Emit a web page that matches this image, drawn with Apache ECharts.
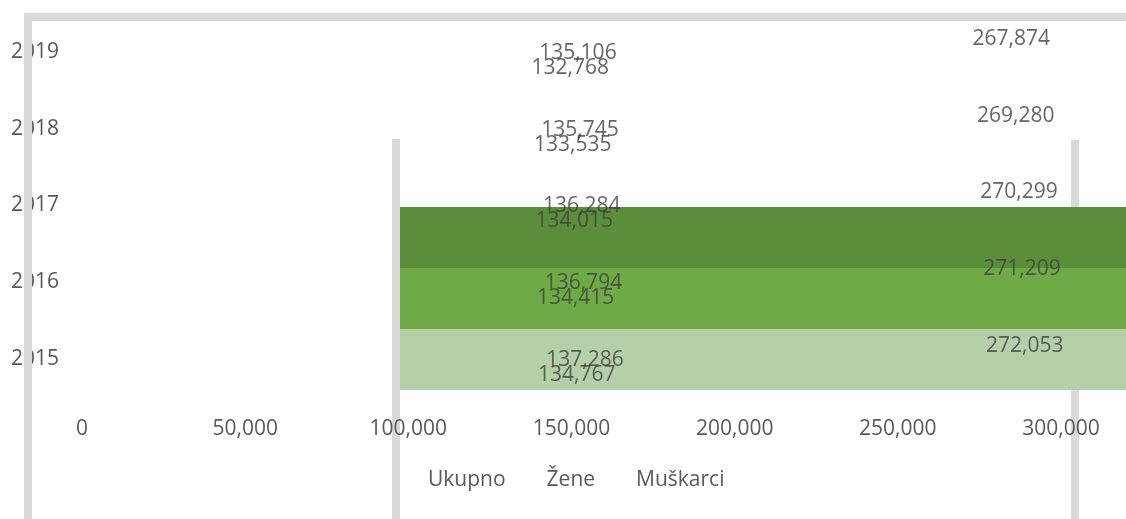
<!DOCTYPE html>
<html>
<head>
<meta charset="utf-8">
<title>Stanovništvo</title>
<script src="https://cdn.jsdelivr.net/npm/echarts@6/dist/echarts.min.js"></script>
<style>
  html, body { margin: 0; padding: 0; background: #fff; }
  #chart { width: 1126px; height: 519px; }
</style>
</head>
<body>
<div id="chart"></div>
<script>
// data
var years = ['2015', '2016', '2017', '2018', '2019'];
var ukupno = [272053, 271209, 270299, 269280, 267874];
var zene = [137286, 136794, 136284, 135745, 135106];
var muskarci = [134767, 134415, 134015, 133535, 132768];
var xTicks = [0, 50000, 100000, 150000, 200000, 250000, 300000];
// the three green blocks (legend swatches drawn big), bottom to top
var swatchNames = ['Ukupno', 'Žene', 'Muškarci'];
var swatchValues = [1, 1, 1];

var FONT = '"Open Sans", "Liberation Sans", sans-serif';
var colors = { Ukupno: '#B5CFA9', 'Žene': '#6EAA45', 'Muškarci': '#5A8E3A' };

function pairs(values) {
  return values.map(function (v, i) { return [v, years[i]]; });
}

function labelSeries(name, values, dy) {
  return {
    name: name,
    type: 'scatter',
    symbolSize: 0,
    silent: true,
    z: 6,
    data: pairs(values),
    label: {
      show: true,
      position: 'inside',
      offset: [55, dy],
      color: '#404040',
      fontSize: 21,
      fontFamily: FONT,
      formatter: function (p) { return p.value[0].toLocaleString('en-US'); }
    }
  };
}

var chart = echarts.init(document.getElementById('chart'));
chart.setOption({
  animation: false,
  backgroundColor: '#fff',
  grid: [
    { left: 82, right: 65, top: 14, bottom: 122 },
    { left: 400, right: 0, top: 207, bottom: 129 }
  ],
  legend: {
    data: ['Ukupno', 'Žene', 'Muškarci'],
    left: 418,
    top: 465,
    itemWidth: 0,
    itemHeight: 0,
    itemGap: 36,
    icon: 'rect',
    itemStyle: { color: 'transparent', borderWidth: 0 },
    textStyle: { color: '#595959', fontSize: 21, fontFamily: FONT }
  },
  xAxis: [
    {
      type: 'value',
      z: 3,
      min: xTicks[0],
      max: xTicks[xTicks.length - 1],
      interval: xTicks[1] - xTicks[0],
      axisLine: { show: false },
      axisTick: { show: false },
      splitLine: { show: false },
      axisLabel: {
        margin: 22,
        color: '#595959',
        fontSize: 21,
        fontFamily: FONT,
        formatter: function (v) { return v.toLocaleString('en-US'); }
      }
    },
    { gridIndex: 1, type: 'value', min: 0, max: 1, show: false }
  ],
  yAxis: [
    {
      type: 'category',
      data: years,
      axisLine: { show: false },
      axisTick: { show: false },
      splitLine: { show: false },
      axisLabel: {
        margin: 23,
        color: '#595959',
        fontSize: 21,
        fontFamily: FONT
      }
    },
    { gridIndex: 1, type: 'category', data: swatchNames, show: false }
  ],
  series: [
    labelSeries('Ukupno', ukupno, -13),
    labelSeries('Žene', zene, 1),
    labelSeries('Muškarci', muskarci, 16),
    {
      name: 'blokovi',
      type: 'bar',
      xAxisIndex: 1,
      yAxisIndex: 1,
      barCategoryGap: '0%',
      silent: true,
      z: 5,
      data: swatchValues.map(function (v, i) {
        return { value: v, itemStyle: { color: colors[swatchNames[i]] } };
      })
    }
  ],
  graphic: [
    // grey frame pieces
    { type: 'rect', z: 1, shape: { x: 1071, y: 140, width: 8, height: 379 }, style: { fill: '#D9D9D9' } },
    { type: 'rect', z: 1, shape: { x: 392, y: 139, width: 8, height: 380 }, style: { fill: '#D9D9D9' } },
    { type: 'rect', z: 10, shape: { x: 24, y: 13, width: 1102, height: 8 }, style: { fill: '#D9D9D9' } },
    { type: 'rect', z: 10, shape: { x: 24, y: 13, width: 8, height: 506 }, style: { fill: '#D9D9D9' } }
  ]
});
</script>
</body>
</html>
